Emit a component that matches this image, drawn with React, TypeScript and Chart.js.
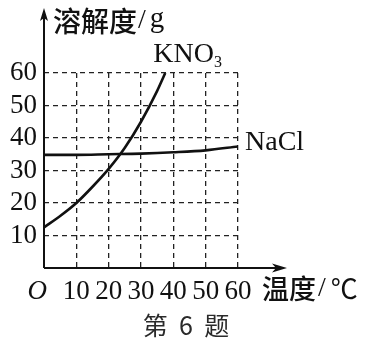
import React, { useEffect, useRef } from "react";
import { Chart, registerables } from "chart.js";

Chart.register(...registerables);

// ---- data ----
const kno3Temp = [0, 5, 10, 15, 20, 25, 30, 35, 37.5];
const kno3Sol = [12.5, 16, 20, 25, 30.5, 37, 45, 54.5, 60];
const naclTemp = [0, 10, 20, 30, 40, 50, 60];
const naclSol = [34.8, 34.8, 35, 35.2, 35.6, 36.2, 37.4];
const xTickValues = [0, 10, 20, 30, 40, 50, 60];
const yTickValues = [0, 10, 20, 30, 40, 50, 60];
const seriesKNO3 = { main: "KNO", sub: "3" };
const seriesNaCl = "NaCl";
const yTitle = { cjk: "溶解度", slash: "/", unit: "g" };
const xTitle = { cjk: "温度", slash: "/", unit: "℃" };
const caption = "第  6  题";

const SERIF = '"Liberation Serif", "Noto Sans CJK SC", serif';
const CJK = '"Noto Sans CJK SC", "Liberation Serif", sans-serif';
const INK = "#111";

const overlay = {
  id: "overlay",
  afterDraw(chart: any) {
    const { ctx, chartArea } = chart;
    const { left, top, right, bottom } = chartArea;
    const xs = chart.scales.x;
    const ys = chart.scales.y;
    ctx.save();
    ctx.setLineDash([]);
    ctx.strokeStyle = INK;
    ctx.fillStyle = INK;
    ctx.lineWidth = 2;

    // y axis with arrow
    const yTip = top - 65;
    ctx.beginPath();
    ctx.moveTo(left, bottom);
    ctx.lineTo(left, yTip + 6);
    ctx.stroke();
    ctx.beginPath();
    ctx.moveTo(left, yTip);
    ctx.lineTo(left - 4, yTip + 13);
    ctx.lineTo(left, yTip + 10);
    ctx.lineTo(left + 4, yTip + 13);
    ctx.closePath();
    ctx.fill();

    // x axis with arrow
    const xTip = right + 49;
    ctx.beginPath();
    ctx.moveTo(left, bottom);
    ctx.lineTo(xTip - 6, bottom);
    ctx.stroke();
    ctx.beginPath();
    ctx.moveTo(xTip, bottom);
    ctx.lineTo(xTip - 15, bottom - 4.5);
    ctx.lineTo(xTip - 11, bottom);
    ctx.lineTo(xTip - 15, bottom + 4.5);
    ctx.closePath();
    ctx.fill();

    // y title
    ctx.textBaseline = "middle";
    ctx.textAlign = "left";
    let tx = left + 9;
    const ty = yTip + 13;
    ctx.font = `500 28px ${CJK}`;
    ctx.fillText(yTitle.cjk, tx, ty);
    tx += ctx.measureText(yTitle.cjk).width + 1;
    ctx.font = `28px ${SERIF}`;
    ctx.fillText(yTitle.slash, tx, ty);
    tx += ctx.measureText(yTitle.slash).width + 4;
    ctx.font = `29px ${SERIF}`;
    ctx.fillText(yTitle.unit, tx, ty - 2);

    // x title
    let ux = xTip - 25;
    const uy = bottom + 21;
    ctx.font = `500 27px ${CJK}`;
    ctx.fillText(xTitle.cjk, ux, uy);
    ux += ctx.measureText(xTitle.cjk).width + 2;
    ctx.font = `28px ${SERIF}`;
    ctx.fillText(xTitle.slash, ux, uy);
    ux += ctx.measureText(xTitle.slash).width + 5;
    ctx.font = `27px ${CJK}`;
    ctx.fillText(xTitle.unit, ux, uy);

    // series labels
    ctx.textBaseline = "alphabetic";
    const kx = xs.getPixelForValue(kno3Temp[kno3Temp.length - 1]) - 12;
    const ky = ys.getPixelForValue(kno3Sol[kno3Sol.length - 1]) - 11;
    ctx.font = `28px ${SERIF}`;
    ctx.fillText(seriesKNO3.main, kx, ky);
    const kw = ctx.measureText(seriesKNO3.main).width;
    ctx.font = `16px ${SERIF}`;
    ctx.fillText(seriesKNO3.sub, kx + kw, ky + 5);

    const nx = right + 7;
    const ny = ys.getPixelForValue(naclSol[naclSol.length - 1]) + 4;
    ctx.font = `28px ${SERIF}`;
    ctx.fillText(seriesNaCl, nx, ny);

    // caption
    ctx.textAlign = "center";
    ctx.textBaseline = "middle";
    ctx.fillStyle = "#2a2a2a";
    ctx.font = `25px ${CJK}`;
    ctx.fillText(caption, 186, bottom + 57);
    ctx.restore();
  },
};

export default function App() {
  const ref = useRef<HTMLCanvasElement | null>(null);
  useEffect(() => {
    if (!ref.current) return;
    const chart = new Chart(ref.current, {
      type: "line",
      data: {
        datasets: [
          {
            label: "KNO3",
            data: kno3Temp.map((t, i) => ({ x: t, y: kno3Sol[i] })),
            borderColor: INK,
            borderWidth: 2.6,
            pointRadius: 0,
            cubicInterpolationMode: "monotone",
            fill: false,
          },
          {
            label: "NaCl",
            data: naclTemp.map((t, i) => ({ x: t, y: naclSol[i] })),
            borderColor: INK,
            borderWidth: 2.6,
            pointRadius: 0,
            cubicInterpolationMode: "monotone",
            fill: false,
          },
        ],
      },
      options: {
        animation: false,
        responsive: false,
        events: [],
        layout: { padding: { left: 0, top: 73, right: 127, bottom: 0 } },
        plugins: { legend: { display: false }, tooltip: { enabled: false } },
        scales: {
          x: {
            type: "linear",
            min: 0,
            max: 60,
            afterFit: (s: any) => {
              s.height = 87;
            },
            afterBuildTicks: (s: any) => {
              s.ticks = xTickValues.map((v) => ({ value: v }));
            },
            ticks: {
              autoSkip: false,
              maxRotation: 0,
              padding: 8,
              color: INK,
              font: (c: any) => ({
                family: SERIF,
                size: 27,
                style: c.tick && c.tick.value === 0 ? "italic" : "normal",
              }),
              callback: (v: any) => (v === 0 ? "O  " : String(v)),
            },
            grid: { color: "#222", lineWidth: 1.3, drawTicks: false },
            border: { display: false, dash: [5, 4] },
          },
          y: {
            type: "linear",
            min: 0,
            max: 60,
            afterFit: (s: any) => {
              s.width = 44;
            },
            afterBuildTicks: (s: any) => {
              s.ticks = yTickValues.map((v) => ({ value: v }));
            },
            ticks: {
              autoSkip: false,
              padding: 7,
              color: INK,
              font: { family: SERIF, size: 27 },
              callback: (v: any) => (v === 0 ? "" : String(v)),
            },
            grid: { color: "#222", lineWidth: 1.3, drawTicks: false },
            border: { display: false, dash: [5, 4] },
          },
        },
      },
      plugins: [overlay],
    });
    return () => chart.destroy();
  }, []);
  return (
    <div style={{ position: "absolute", left: 0, top: 0, width: 365, height: 355, background: "#fff" }}>
      <canvas ref={ref} width={365} height={355} style={{ display: "block" }} />
    </div>
  );
}
